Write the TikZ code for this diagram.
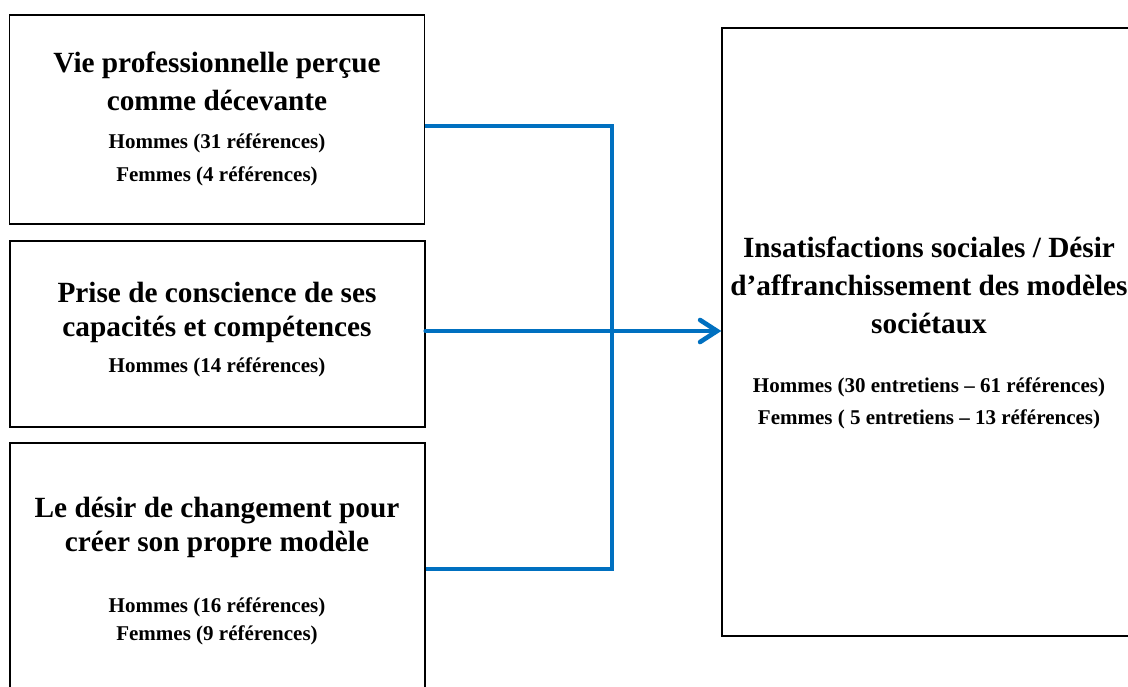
\documentclass[tikz,border=0pt]{standalone}
\usepackage{fontspec}
\setmainfont{Liberation Serif}
\usepackage{tikz}
\usetikzlibrary{arrows.meta}

\definecolor{bleu}{RGB}{0,112,192}

\begin{document}
\begin{tikzpicture}[x=1pt,y=-1pt,
    cadre/.style={draw,line width=1.4pt,minimum width=415pt,inner sep=0pt},
    titre/.style={font=\fontsize{29.3}{36}\selectfont\bfseries,align=center,inner sep=0pt},
    refs/.style={font=\fontsize{21}{30}\selectfont\bfseries,align=center,inner sep=0pt},
    lien/.style={draw=bleu,line width=4.6pt},
    fleche/.style={lien,line cap=round,-{Straight Barb[length=17pt,width=22pt,line cap=round]}}]
        \useasboundingbox (0,0) rectangle (1128,686);
        % left boxes
        \node[cadre,minimum height=209pt] (vie) at (217,119.5) {};
        \node[titre,font=\fontsize{29.3}{38}\selectfont\bfseries] (vieT) at (217,81)
          {Vie professionnelle perçue\\comme décevante};
        \node[refs,font=\fontsize{21}{33}\selectfont\bfseries] (vieR) at (217,160)
          {Hommes (31 références)\\Femmes (4 références)};

        \node[cadre,minimum height=186pt] (prise) at (217.5,334) {};
        \node[titre,font=\fontsize{29.3}{34}\selectfont\bfseries] (priseT) at (217,312)
          {Prise de conscience de ses\\capacités et compétences};
        \node[refs] (priseR) at (217,367) {Hommes (14 références)};

        \node[cadre,minimum height=258pt] (desir) at (217.5,572) {};
        \node[titre,font=\fontsize{29.3}{34}\selectfont\bfseries] (desirT) at (217,527)
          {Le désir de changement pour\\créer son propre modèle};
        \node[refs,font=\fontsize{21}{28}\selectfont\bfseries] (desirR) at (217,621)
          {Hommes (16 références)\\Femmes (9 références)};

        % right box
        \node[cadre,minimum width=414pt,minimum height=608pt] (insat) at (929,332) {};
        \node[titre,font=\fontsize{29.3}{38}\selectfont\bfseries] (insatT) at (929,285)
          {Insatisfactions sociales / Désir\\d’affranchissement des modèles\\sociétaux};
        \node[refs,font=\fontsize{21}{32}\selectfont\bfseries] (insatR) at (929,403)
          {Hommes (30 entretiens – 61 références)\\Femmes ( 5 entretiens – 13 références)};

        % connectors
        \coordinate (j) at (612,331);
        \draw[lien] ([yshift=-6.5pt]vie.east) -| (j);
        \draw[lien] ([yshift=3pt]desir.east) -| (j);
        \draw[fleche] (prise.east |- j) -- (insat.west |- j);
      \end{tikzpicture}
\end{document}
